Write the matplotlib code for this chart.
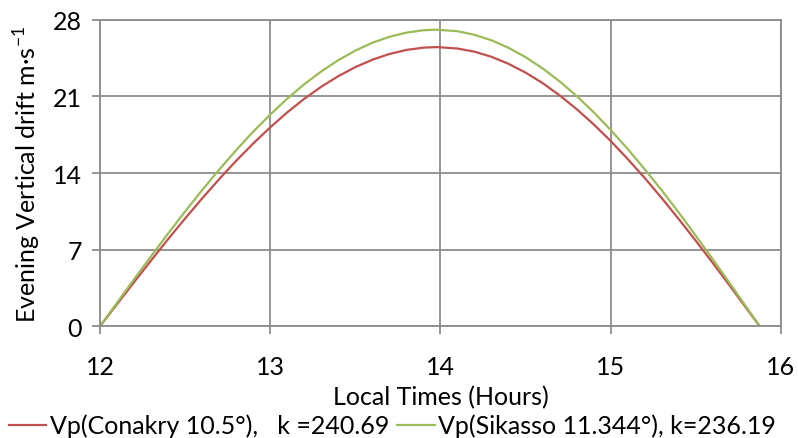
import matplotlib
matplotlib.use("Agg")
import matplotlib.pyplot as plt

plt.rcParams["font.family"] = ["Lato", "DejaVu Sans"]
plt.rcParams["axes.unicode_minus"] = False

# Conakry (10.5°), k = 240.69
t_conakry = [12.0, 12.1, 12.2, 12.3, 12.4, 12.5, 12.6, 12.7, 12.8, 12.9,
             13.0, 13.1, 13.2, 13.3, 13.4, 13.5, 13.6, 13.7, 13.8, 13.9,
             13.98, 14.1, 14.2, 14.3, 14.4, 14.5, 14.6, 14.7, 14.8, 14.9,
             15.0, 15.1, 15.2, 15.3, 15.4, 15.5, 15.6, 15.7, 15.8, 15.875]
vp_conakry = [0.0, 2.02, 4.03, 6.01, 7.96, 9.85, 11.68, 13.44, 15.12, 16.70,
              18.17, 19.54, 20.78, 21.88, 22.85, 23.67, 24.35, 24.87, 25.24, 25.45,
              25.50, 25.37, 25.08, 24.61, 23.97, 23.17, 22.21, 21.09, 19.83, 18.44,
              16.92, 15.27, 13.54, 11.70, 9.78, 7.80, 5.77, 3.69, 1.58, 0.0]

# Sikasso (11.344°), k = 236.19
t_sikasso = [12.0, 12.1, 12.2, 12.3, 12.4, 12.5, 12.6, 12.7, 12.8, 12.9,
             13.0, 13.1, 13.2, 13.3, 13.4, 13.5, 13.6, 13.7, 13.8, 13.9,
             13.975, 14.1, 14.2, 14.3, 14.4, 14.5, 14.6, 14.7, 14.8, 14.9,
             15.0, 15.1, 15.2, 15.3, 15.4, 15.5, 15.6, 15.7, 15.8, 15.876]
vp_sikasso = [0.0, 2.15, 4.29, 6.40, 8.47, 10.49, 12.44, 14.31, 16.09, 17.78,
              19.34, 20.79, 22.11, 23.28, 24.31, 25.18, 25.90, 26.44, 26.82, 27.04,
              27.09, 26.95, 26.62, 26.12, 25.43, 24.58, 23.55, 22.37, 21.03, 19.55,
              17.93, 16.19, 14.33, 12.41, 10.38, 8.26, 6.11, 3.91, 1.68, 0.0]

x_ticks = [12, 13, 14, 15, 16]
y_ticks = [0, 7, 14, 21, 28]
FS = 18

fig = plt.figure(figsize=(7.98, 4.39), dpi=100)
ax = fig.add_axes([0.1253, 0.2544, 0.8534, 0.6984])

ax.plot(t_conakry, vp_conakry, color="#C0504D", lw=1.6,
        label="Vp(Conakry 10.5°),   k =240.69")
ax.plot(t_sikasso, vp_sikasso, color="#9BBB59", lw=1.6,
        label="Vp(Sikasso 11.344°), k=236.19")

ax.set_xlim(12, 16)
ax.set_ylim(0, 28)
ax.set_xticks(x_ticks)
ax.set_yticks(y_ticks)
ax.grid(True, color="#8C8C8C", lw=1.3)
ax.set_axisbelow(True)
for sp in ax.spines.values():
    sp.set_color("#8C8C8C")
    sp.set_linewidth(1.3)
ax.tick_params(colors="#8C8C8C", length=6, width=1.3, labelsize=FS,
               labelcolor="black", pad=7)
ax.tick_params(axis="x", pad=15)

ax.set_xlabel("Local Times (Hours)", fontsize=FS, labelpad=5)
ax.set_ylabel("Evening Vertical drift m·s$^{\\mathregular{-1}}$", fontsize=FS,
              labelpad=7)

fig.legend(loc="lower center", bbox_to_anchor=(0.492, -0.05), ncol=2,
           frameon=False, fontsize=FS, handlelength=1.5, handletextpad=0.15,
           columnspacing=0.3)

fig.savefig("out.png", dpi=100)
